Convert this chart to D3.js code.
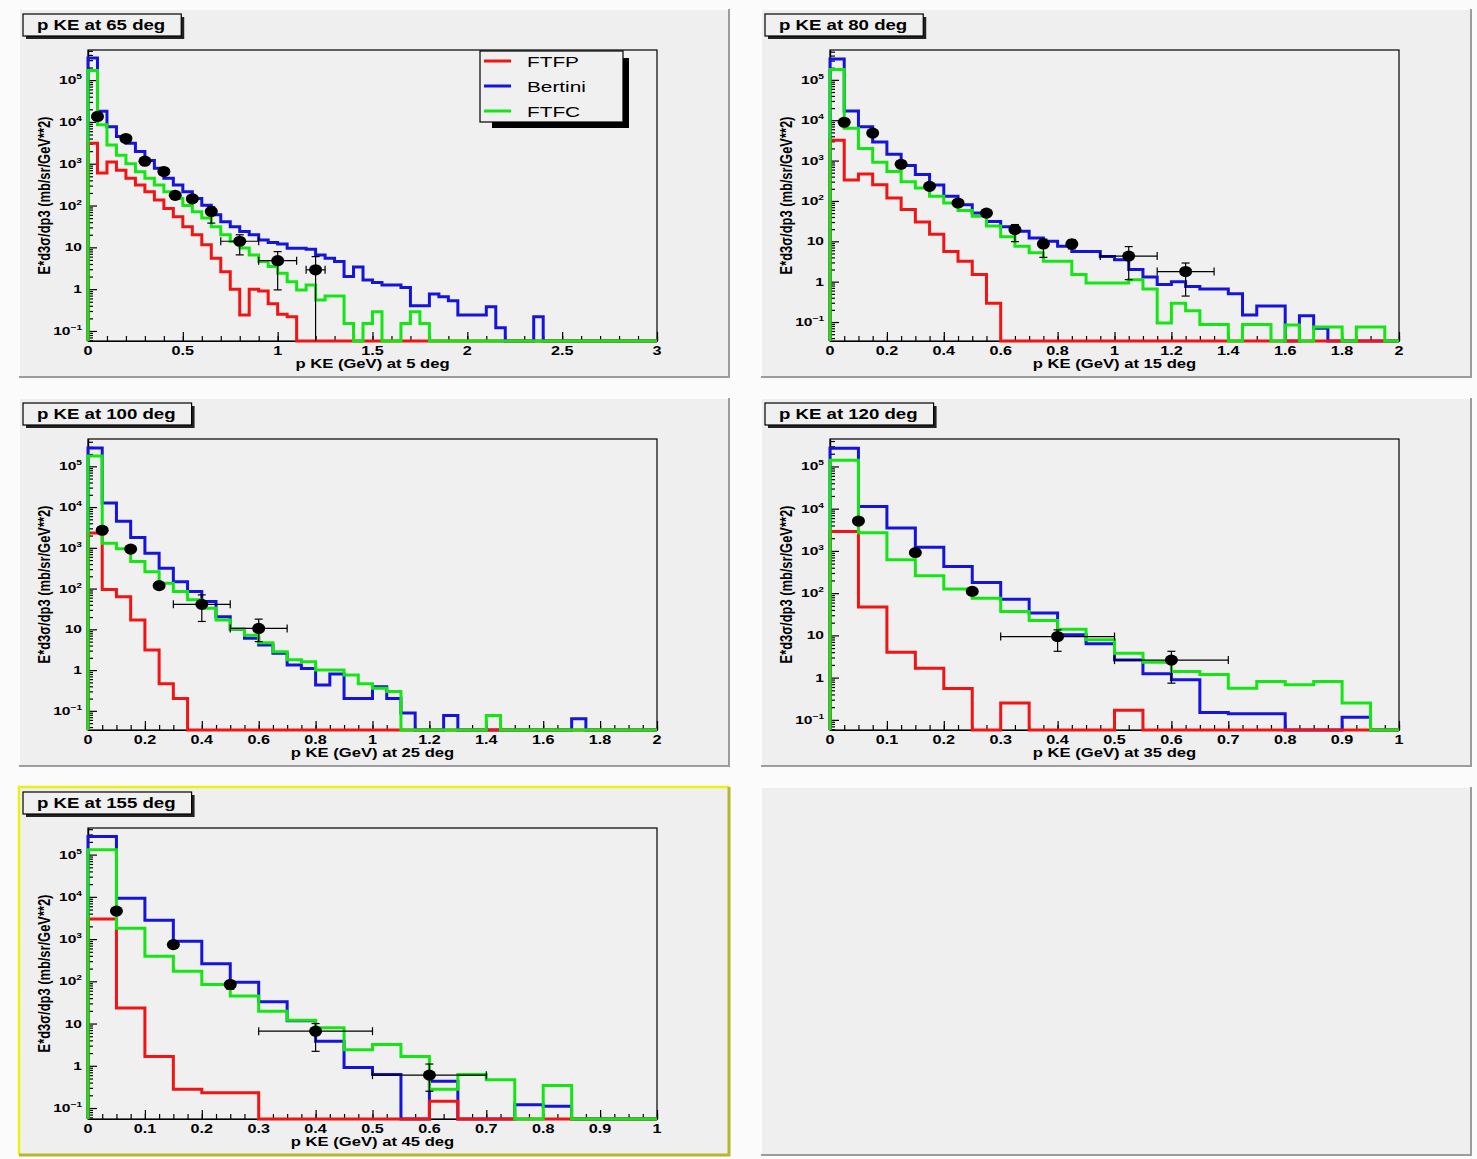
<!DOCTYPE html>
<html><head><meta charset="utf-8">
<script src="https://cdn.jsdelivr.net/npm/d3@7"></script>
<style>body{margin:0;background:#ffffff;} svg{display:block;}</style>
</head><body>
<svg id="c" width="1477" height="1159"></svg>
<script>
// ---------------- DATA ----------------
const seriesNames = ["FTFP", "Bertini", "FTFC"];
const seriesColors = ["#f01414", "#1414dc", "#14e614"];
const panelTitles = ["p KE at 65 deg", "p KE at 80 deg", "p KE at 100 deg", "p KE at 120 deg", "p KE at 155 deg"];
const xAxisTitles = ["p KE (GeV) at 5 deg", "p KE (GeV) at 15 deg", "p KE (GeV) at 25 deg", "p KE (GeV) at 35 deg", "p KE (GeV) at 45 deg"];
const yAxisTitle = "E*d3\u03c3/dp3 (mb/sr/GeV**2)";
const xMaxima = [3, 2, 2, 1, 1];
const yLogMin = [-1.24, -1.47, -1.47, -1.24, -1.26];
const yLogMax = [5.72, 5.74, 5.67, 5.65, 5.63];
const binWidth = 0.05;

const xTicks65 = [0, 0.5, 1, 1.5, 2, 2.5, 3];
const xTicks80 = [0, 0.2, 0.4, 0.6, 0.8, 1, 1.2, 1.4, 1.6, 1.8, 2];
const xTicks100 = [0, 0.2, 0.4, 0.6, 0.8, 1, 1.2, 1.4, 1.6, 1.8, 2];
const xTicks120 = [0, 0.1, 0.2, 0.3, 0.4, 0.5, 0.6, 0.7, 0.8, 0.9, 1];
const xTicks155 = [0, 0.1, 0.2, 0.3, 0.4, 0.5, 0.6, 0.7, 0.8, 0.9, 1];
const xMinorStep = [0.1, 0.05, 0.05, 0.025, 0.025];

// 65 deg (5 deg), 60 bins of 0.05 GeV
const ftfp65 = [3100, 600, 1100, 700, 450, 310, 215, 135, 85, 54,
  31, 20, 11.5, 5.5, 2.6, 1.0, 0.24, 1.0, 0.9, 0.45,
  0.25, 0.22, 0, 0, 0, 0, 0, 0, 0, 0,
  0, 0, 0, 0, 0, 0, 0, 0, 0, 0,
  0, 0, 0, 0, 0, 0, 0, 0, 0, 0,
  0, 0, 0, 0, 0, 0, 0, 0, 0, 0];
const bertini65 = [3.4e5, 1.8e4, 7.7e3, 4.5e3, 3.1e3, 1.95e3, 1.2e3, 780, 450, 310,
  215, 148, 102, 60, 41, 31, 24, 20, 15, 13,
  12, 9.5, 9.5, 9.0, 6.6, 5.5, 4.6, 2.0, 3.4, 1.66,
  1.44, 1.26, 1.26, 1.1, 0.40, 0.40, 0.77, 0.66, 0.53, 0.24,
  0.24, 0.24, 0.38, 0.12, 0, 0, 0, 0.22, 0, 0,
  0, 0, 0, 0, 0, 0, 0, 0, 0, 0];
const ftfc65 = [1.7e5, 8.5e3, 2.8e3, 1.6e3, 1.0e3, 640, 450, 310, 215, 148,
  100, 71, 50, 31, 20, 13.8, 9.6, 6.6, 4.6, 3.5,
  2.4, 1.5, 0.96, 1.26, 0.55, 0.69, 0.69, 0.15, 0, 0.15,
  0.29, 0, 0, 0.15, 0.29, 0.15, 0, 0, 0, 0,
  0, 0, 0, 0, 0, 0, 0, 0, 0, 0,
  0, 0, 0, 0, 0, 0, 0, 0, 0, 0];
const pts65X = [0.05, 0.2, 0.3, 0.4, 0.46, 0.55, 0.65, 0.8, 1.0, 1.2];
const pts65Y = [1.35e4, 4.0e3, 1.15e3, 650, 175, 145, 72, 14, 4.8, 2.9];
const pts65Lo = [1.2e4, 3.6e3, 1.0e3, 560, 140, 120, 38, 6.6, 0.96, 0];
const pts65Hi = [1.5e4, 4.4e3, 1.3e3, 740, 210, 170, 93, 20, 7.9, 6];
const pts65XErr = [0, 0, 0, 0, 0, 0, 0, 0.1, 0.1, 0.05];

// 80 deg (15 deg), 40 bins
const ftfp80 = [3200, 330, 465, 252, 118, 61, 30, 15, 5.6, 3.2,
  1.5, 0.29, 0, 0, 0, 0, 0, 0, 0, 0,
  0, 0, 0, 0, 0, 0, 0, 0, 0, 0,
  0, 0, 0, 0, 0, 0, 0, 0, 0, 0];
const bertini80 = [3.3e5, 1.7e4, 6.9e3, 2.9e3, 1.44e3, 760, 450, 250, 130, 81,
  50, 31, 23, 17.7, 12, 10, 7.5, 5.6, 5.6, 4.2,
  3.5, 2.0, 1.3, 0.85, 1.0, 0.76, 0.66, 0.66, 0.50, 0.15,
  0.25, 0.25, 0, 0.144, 0.07, 0, 0, 0, 0, 0];
const ftfc80 = [1.8e5, 6.3e3, 2.0e3, 910, 540, 300, 210, 130, 89, 58,
  42, 24, 13, 7.5, 5.2, 3.2, 3.2, 1.5, 0.93, 0.93,
  0.93, 1.12, 0.66, 0.095, 0.29, 0.19, 0.087, 0.087, 0, 0.087,
  0.087, 0, 0.085, 0, 0.075, 0.075, 0, 0.075, 0.075, 0];
const pts80X = [0.05, 0.15, 0.25, 0.35, 0.45, 0.55, 0.65, 0.75, 0.85, 1.05, 1.25];
const pts80Y = [8.9e3, 4.8e3, 810, 230, 89, 50, 19.5, 8.6, 8.6, 4.3, 1.78];
const pts80Lo = [8.0e3, 4.2e3, 700, 200, 78, 44, 9.8, 4.0, 6.5, 1.12, 0.44];
const pts80Hi = [9.8e3, 5.4e3, 920, 260, 100, 56, 26, 11.3, 11, 7.4, 2.9];
const pts80XErr = [0, 0, 0, 0, 0, 0, 0, 0, 0, 0.1, 0.1];

// 100 deg (25 deg), 40 bins
const ftfp100 = [2300, 95, 63, 17, 3.1, 0.46, 0.20, 0, 0, 0,
  0, 0, 0, 0, 0, 0, 0, 0, 0, 0,
  0, 0, 0, 0, 0, 0, 0, 0, 0, 0,
  0, 0, 0, 0, 0, 0, 0, 0, 0, 0];
const bertini100 = [2.8e5, 1.26e4, 4.5e3, 1.8e3, 740, 316, 148, 85, 48, 20.5,
  10, 6.0, 4.1, 2.6, 1.33, 1.1, 0.43, 0.80, 0.20, 0.20,
  0.39, 0.20, 0.089, 0, 0, 0.077, 0, 0, 0, 0,
  0, 0, 0, 0, 0.064, 0, 0, 0, 0, 0];
const ftfc100 = [1.8e5, 1.3e3, 950, 460, 260, 135, 85, 53, 33, 17,
  10, 7.2, 4.7, 2.8, 1.8, 1.6, 1.0, 1.0, 0.76, 0.46,
  0.36, 0.30, 0, 0, 0, 0, 0, 0, 0.077, 0,
  0, 0, 0, 0, 0, 0, 0, 0, 0, 0];
const pts100X = [0.05, 0.15, 0.25, 0.4, 0.6];
const pts100Y = [2.7e3, 930, 118, 41, 10.5];
const pts100Lo = [2.3e3, 800, 100, 15.6, 5.0];
const pts100Hi = [3.1e3, 1060, 136, 70, 17.8];
const pts100XErr = [0, 0, 0, 0.1, 0.1];

// 120 deg (35 deg), 20 bins
const ftfp120 = [2.9e3, 47, 4.0, 1.66, 0.55, 0, 0.25, 0, 0, 0,
  0.17, 0, 0, 0, 0, 0, 0, 0, 0, 0];
const bertini120 = [2.7e5, 1.12e4, 3.5e3, 1.23e3, 430, 180, 72, 34, 10.3, 6.3,
  2.6, 1.24, 0.89, 0.15, 0.14, 0.14, 0, 0, 0.115, 0];
const ftfc120 = [1.4e5, 2.7e3, 620, 260, 125, 76, 37, 22.6, 14, 7.9,
  3.8, 2.3, 1.4, 1.18, 0.56, 0.81, 0.68, 0.81, 0.25, 0];
const pts120X = [0.05, 0.15, 0.25, 0.4, 0.6];
const pts120Y = [5.1e3, 910, 110, 9.4, 2.6];
const pts120Lo = [4.4e3, 780, 95, 4.2, 0.74];
const pts120Hi = [5.8e3, 1050, 125, 13.5, 4.2];
const pts120XErr = [0, 0, 0, 0.1, 0.1];

// 155 deg (45 deg), 20 bins
const ftfp155 = [3.0e3, 23.4, 1.66, 0.28, 0.23, 0.23, 0, 0, 0, 0,
  0, 0, 0.145, 0, 0, 0, 0, 0, 0, 0];
const bertini155 = [2.7e5, 9.3e3, 2.8e3, 890, 260, 95, 33, 11.6, 3.8, 0.91,
  0.62, 0, 0.43, 0, 0, 0.12, 0.11, 0, 0, 0];
const ftfc155 = [1.3e5, 1.8e3, 390, 172, 84, 45, 19.5, 12, 7.9, 2.4,
  3.2, 1.66, 0.28, 0.62, 0.47, 0, 0.34, 0, 0, 0];
const pts155X = [0.05, 0.15, 0.25, 0.4, 0.6];
const pts155Y = [4.6e3, 740, 84, 6.6, 0.6];
const pts155Lo = [3.9e3, 620, 65, 2.2, 0.25];
const pts155Hi = [5.4e3, 880, 105, 10, 1.1];
const pts155XErr = [0, 0, 0, 0.1, 0.1];

// ---------------- assembled tables ----------------
const histTable = [
  [ftfp65, bertini65, ftfc65],
  [ftfp80, bertini80, ftfc80],
  [ftfp100, bertini100, ftfc100],
  [ftfp120, bertini120, ftfc120],
  [ftfp155, bertini155, ftfc155]
];
const ptsTable = [
  [pts65X, pts65Y, pts65Lo, pts65Hi, pts65XErr],
  [pts80X, pts80Y, pts80Lo, pts80Hi, pts80XErr],
  [pts100X, pts100Y, pts100Lo, pts100Hi, pts100XErr],
  [pts120X, pts120Y, pts120Lo, pts120Hi, pts120XErr],
  [pts155X, pts155Y, pts155Lo, pts155Hi, pts155XErr]
];
const xTickTable = [xTicks65, xTicks80, xTicks100, xTicks120, xTicks155];

// ---------------- LAYOUT ----------------
const FONT = "'Liberation Sans', Arial, Helvetica, sans-serif";
const SX = 1.35; // horizontal stretch of the reference rendering
const padX = [19, 761], padY = [9, 398, 787], padW = 710, padH = 368;
const frameDX = 69, frameDY = 41, FW = 569, FH = 291;
const drawOrder = [1, 0, 2]; // Bertini, FTFP, FTFC

const svg = d3.select("#c");
svg.append("rect").attr("width", 1477).attr("height", 1159).attr("fill", "#fbfbfb");

function stext(g, x, y, str, size, weight, anchor) {
  return g.append("text")
    .attr("transform", `translate(${x},${y}) scale(${SX},1)`)
    .attr("text-anchor", anchor || "start")
    .attr("font-family", FONT)
    .attr("font-size", size)
    .attr("font-weight", weight || "bold")
    .attr("fill", "#000")
    .text(str);
}

function drawPad(col, row, highlighted) {
  const px = padX[col], py = padY[row];
  const g = svg.append("g");
  g.append("rect").attr("x", px).attr("y", py).attr("width", padW).attr("height", padH)
    .attr("fill", "#efefef");
  const lt = highlighted ? "#eeee10" : "#ffffff";
  const rb = highlighted ? "#b4b82a" : "#9c9c9c";
  const wl = highlighted ? 2.5 : 1.5;
  const wr = highlighted ? 3 : 2;
  g.append("path").attr("d", `M${px},${py + padH} L${px},${py} L${px + padW},${py}`)
    .attr("fill", "none").attr("stroke", lt).attr("stroke-width", wl);
  g.append("path").attr("d", `M${px + padW},${py} L${px + padW},${py + padH} L${px},${py + padH}`)
    .attr("fill", "none").attr("stroke", rb).attr("stroke-width", wr);
  return g;
}

function drawPanel(i) {
  const col = i % 2, row = Math.floor(i / 2);
  const px = padX[col], py = padY[row];
  const g = drawPad(col, row, i === 4);
  const fx = px + frameDX, fy = py + frameDY;
  const x = d3.scaleLinear().domain([0, xMaxima[i]]).range([fx, fx + FW]);
  const y = d3.scaleLog().domain([Math.pow(10, yLogMin[i]), Math.pow(10, yLogMax[i])])
    .range([fy + FH, fy]).clamp(true);
  const yb = fy + FH;
  const yy = v => (v > 0 ? y(v) : yb);

  // frame
  g.append("rect").attr("x", fx).attr("y", fy).attr("width", FW).attr("height", FH)
    .attr("fill", "#f0f0f0").attr("stroke", "#000").attr("stroke-width", 1.2);

  // x axis ticks (inside)
  const majors = xTickTable[i];
  const nMinor = Math.round(xMaxima[i] / xMinorStep[i]);
  const minors = d3.range(nMinor + 1).map(k => +(k * xMinorStep[i]).toFixed(4));
  const gx1 = g.append("g").attr("transform", `translate(0,${yb})`)
    .call(d3.axisBottom(x).tickValues(minors).tickSize(-5).tickSizeOuter(0).tickFormat(""));
  const gx2 = g.append("g").attr("transform", `translate(0,${yb})`)
    .call(d3.axisBottom(x).tickValues(majors).tickSize(-9).tickSizeOuter(0).tickFormat(""));
  // y axis ticks
  const lo = yLogMin[i], hi = yLogMax[i];
  const decades = d3.range(Math.ceil(lo), Math.floor(hi) + 1);
  const yMinor = [];
  for (let d = Math.floor(lo); d <= Math.ceil(hi); d++) {
    for (let k = 2; k <= 9; k++) {
      const v = k * Math.pow(10, d);
      if (Math.log10(v) > lo && Math.log10(v) < hi) yMinor.push(v);
    }
  }
  const gy1 = g.append("g").attr("transform", `translate(${fx},0)`)
    .call(d3.axisLeft(y).tickValues(yMinor).tickSize(-5).tickSizeOuter(0).tickFormat(""));
  const gy2 = g.append("g").attr("transform", `translate(${fx},0)`)
    .call(d3.axisLeft(y).tickValues(decades.map(d => Math.pow(10, d))).tickSize(-9).tickSizeOuter(0).tickFormat(""));
  [gx1, gx2, gy1, gy2].forEach(a => {
    a.selectAll("line").attr("stroke", "#000").attr("stroke-width", 1.2);
    a.select(".domain").attr("stroke", "#000").attr("stroke-width", 1.2);
  });

  // x tick labels
  majors.forEach(v => {
    stext(g, x(v), yb + 14, String(+v.toFixed(2)), 12, "bold", "middle");
  });
  // y tick labels
  decades.forEach(d => {
    const t = g.append("text")
      .attr("transform", `translate(${fx - 6},${y(Math.pow(10, d)) + 4}) scale(${SX},1)`)
      .attr("text-anchor", "end").attr("font-family", FONT).attr("font-size", 11.5)
      .attr("font-weight", "bold").attr("fill", "#000");
    if (d === 0) { t.append("tspan").text("1"); }
    else if (d === 1) { t.append("tspan").text("10"); }
    else {
      t.append("tspan").text("10");
      t.append("tspan").attr("font-size", 7.5).attr("dy", -5).text(String(d).replace("-", "\u2212"));
    }
  });

  // axis titles
  stext(g, fx + FW / 2, yb + 27, xAxisTitles[i], 12.3, "bold", "middle");
  g.append("text")
    .attr("transform", `translate(${fx - 44},${fy + FH / 2}) scale(${SX},1) rotate(-90)`)
    .attr("text-anchor", "middle").attr("dy", "0.35em")
    .attr("font-family", FONT).attr("font-size", 12.9).attr("font-weight", "bold")
    .attr("fill", "#000").text(yAxisTitle);

  // histograms
  const line = d3.line().x(d => x(d[0])).y(d => yy(d[1])).curve(d3.curveStepAfter);
  drawOrder.forEach(s => {
    const vals = histTable[i][s];
    const n = vals.length;
    const pts = [[0, 0]].concat(vals.map((v, k) => [k * binWidth, v]))
      .concat([[n * binWidth, vals[n - 1]], [n * binWidth, 0]]);
    g.append("path").attr("d", line(pts)).attr("fill", "none")
      .attr("stroke", seriesColors[s]).attr("stroke-width", 3)
      .attr("stroke-linejoin", "miter");
  });

  // data points with error bars
  const [X, Y, LO, HI, XE] = ptsTable[i];
  const pg = g.append("g").attr("stroke", "#000").attr("stroke-width", 1.2);
  X.forEach((xv, k) => {
    const cx = x(xv), cy = y(Y[k]);
    const ylo = yy(LO[k]), yhi = y(HI[k]);
    pg.append("line").attr("x1", cx).attr("x2", cx).attr("y1", ylo).attr("y2", yhi);
    pg.append("line").attr("x1", cx - 4).attr("x2", cx + 4).attr("y1", yhi).attr("y2", yhi);
    if (LO[k] > 0) pg.append("line").attr("x1", cx - 4).attr("x2", cx + 4).attr("y1", ylo).attr("y2", ylo);
    if (XE[k] > 0) {
      const xl = x(xv - XE[k]), xr = x(xv + XE[k]);
      pg.append("line").attr("x1", xl).attr("x2", xr).attr("y1", cy).attr("y2", cy);
      pg.append("line").attr("x1", xl).attr("x2", xl).attr("y1", cy - 4).attr("y2", cy + 4);
      pg.append("line").attr("x1", xr).attr("x2", xr).attr("y1", cy - 4).attr("y2", cy + 4);
    }
    g.append("ellipse").attr("cx", cx).attr("cy", cy).attr("rx", 6.5).attr("ry", 5.6).attr("fill", "#000");
  });

  // title box
  const tg = g.append("g");
  const tt = stext(tg, px + 18, py + 21, panelTitles[i], 13.8, "bold", "start");
  const tw = tt.node().getComputedTextLength() * SX;
  const bx = px + 4, by = py + 5, bw = tw + 30, bh = 22;
  tg.insert("rect", "text").attr("x", bx + 3).attr("y", by + 3).attr("width", bw).attr("height", bh).attr("fill", "#222");
  tg.insert("rect", "text").attr("x", bx).attr("y", by).attr("width", bw).attr("height", bh)
    .attr("fill", "#f0f0f0").attr("stroke", "#000").attr("stroke-width", 1.2);

  // legend (first panel only)
  if (i === 0) {
    const lx = fx + 392, ly = fy + 1, lw = 143, lh = 71;
    const lg = g.append("g");
    lg.append("path")
      .attr("d", `M${lx + lw},${ly + 7} h6 v${lh - 1} H${lx + 12} v-6 H${lx + lw} Z`)
      .attr("fill", "#000");
    lg.append("rect").attr("x", lx).attr("y", ly).attr("width", lw).attr("height", lh)
      .attr("fill", "#f0f0f0").attr("stroke", "#000").attr("stroke-width", 1.2);
    seriesNames.forEach((nm, s) => {
      const ey = ly + 10 + s * 25;
      lg.append("line").attr("x1", lx + 4).attr("x2", lx + 31).attr("y1", ey).attr("y2", ey)
        .attr("stroke", seriesColors[s]).attr("stroke-width", 3);
      stext(lg, lx + 47, ey + 6, nm, 15.4, "normal", "start");
    });
  }
}

for (let i = 0; i < 5; i++) drawPanel(i);
drawPad(1, 2, false);
</script>
</body></html>
